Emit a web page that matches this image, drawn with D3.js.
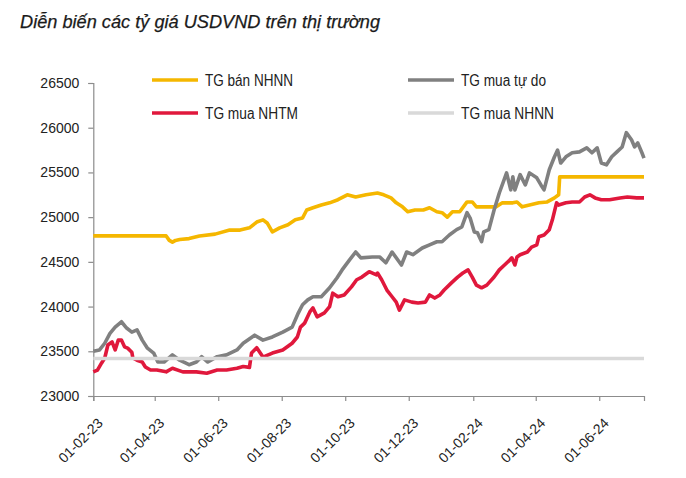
<!DOCTYPE html>
<html>
<head>
<meta charset="utf-8">
<script src="https://cdn.jsdelivr.net/npm/d3@7"></script>
<style>
  html, body { margin: 0; padding: 0; background: #fff; }
  svg { display: block; }
</style>
</head>
<body>
<svg id="chart" width="686" height="478"></svg>
<script>
// ---------- DATA ----------
const title = "Diễn biến các tỷ giá USDVND trên thị trường";
const seriesNames = ["TG bán NHNN", "TG mua tự do", "TG mua NHTM", "TG mua NHNN"];
const yTicks = [23000, 23500, 24000, 24500, 25000, 25500, 26000, 26500];
const xTickDates = ["2023-02-01","2023-04-01","2023-06-01","2023-08-01","2023-10-01","2023-12-01","2024-02-01","2024-04-01","2024-06-01"];

const tgBanNHNN = [
  ["2023-02-01",24790],["2023-04-12",24790],["2023-04-15",24740],["2023-04-18",24720],["2023-04-21",24740],
  ["2023-04-25",24750],["2023-05-04",24760],["2023-05-14",24790],["2023-05-29",24810],["2023-06-12",24855],
  ["2023-06-22",24855],["2023-07-01",24880],["2023-07-08",24945],["2023-07-14",24970],["2023-07-18",24935],
  ["2023-07-23",24835],["2023-07-30",24880],["2023-08-07",24915],["2023-08-14",24970],["2023-08-21",24990],
  ["2023-08-25",25080],["2023-08-31",25105],["2023-09-08",25135],["2023-09-16",25160],["2023-09-24",25195],
  ["2023-10-03",25250],["2023-10-11",25225],["2023-10-21",25250],["2023-11-01",25270],["2023-11-07",25250],
  ["2023-11-14",25215],["2023-11-19",25160],["2023-11-25",25115],["2023-11-30",25060],["2023-12-07",25080],
  ["2023-12-15",25080],["2023-12-21",25105],["2023-12-28",25060],["2024-01-02",25050],["2024-01-07",25000],
  ["2024-01-12",25060],["2024-01-19",25060],["2024-01-26",25170],["2024-01-31",25170],["2024-02-04",25115],
  ["2024-02-13",25115],["2024-02-23",25115],["2024-02-29",25160],["2024-03-10",25160],["2024-03-14",25170],
  ["2024-03-19",25115],["2024-03-26",25135],["2024-04-04",25160],["2024-04-12",25170],["2024-04-19",25215],
  ["2024-04-23",25250],["2024-04-24",25450],["2024-07-14",25450]
];

const tgMuaTuDo = [
  ["2023-02-01",23500],["2023-02-07",23515],["2023-02-12",23590],["2023-02-17",23700],["2023-02-22",23770],
  ["2023-02-28",23830],["2023-03-05",23760],["2023-03-10",23715],["2023-03-15",23740],["2023-03-20",23625],
  ["2023-03-25",23535],["2023-03-31",23480],["2023-04-04",23380],["2023-04-10",23380],["2023-04-18",23460],
  ["2023-04-25",23400],["2023-05-04",23350],["2023-05-11",23380],["2023-05-16",23440],["2023-05-22",23380],
  ["2023-05-31",23440],["2023-06-09",23460],["2023-06-19",23515],["2023-06-25",23590],["2023-07-06",23680],
  ["2023-07-14",23625],["2023-07-23",23660],["2023-08-02",23715],["2023-08-11",23770],["2023-08-17",23930],
  ["2023-08-21",24020],["2023-08-26",24075],["2023-08-31",24110],["2023-09-08",24110],["2023-09-16",24210],
  ["2023-09-23",24320],["2023-09-28",24410],["2023-10-05",24520],["2023-10-11",24610],["2023-10-16",24545],
  ["2023-10-27",24555],["2023-11-03",24555],["2023-11-09",24490],["2023-11-15",24610],["2023-11-24",24465],
  ["2023-11-29",24610],["2023-12-05",24580],["2023-12-14",24655],["2023-12-21",24690],["2023-12-28",24725],
  ["2024-01-02",24725],["2024-01-09",24800],["2024-01-16",24860],["2024-01-21",24890],["2024-01-26",25050],
  ["2024-01-29",24990],["2024-02-02",24835],["2024-02-05",24825],["2024-02-09",24725],["2024-02-11",24835],
  ["2024-02-16",24860],["2024-02-21",25080],["2024-02-26",25270],["2024-03-04",25495],["2024-03-08",25305],
  ["2024-03-10",25450],["2024-03-12",25305],["2024-03-17",25475],["2024-03-22",25360],["2024-03-26",25495],
  ["2024-04-02",25440],["2024-04-06",25360],["2024-04-09",25305],["2024-04-14",25530],["2024-04-19",25675],
  ["2024-04-22",25750],["2024-04-25",25605],["2024-04-30",25675],["2024-05-06",25720],["2024-05-13",25730],
  ["2024-05-20",25775],["2024-05-25",25720],["2024-05-30",25775],["2024-06-03",25605],["2024-06-08",25585],
  ["2024-06-13",25675],["2024-06-18",25730],["2024-06-23",25785],["2024-06-27",25945],["2024-07-02",25865],
  ["2024-07-05",25785],["2024-07-08",25830],["2024-07-12",25720],["2024-07-14",25660]
];

const tgMuaNHTM = [
  ["2023-02-01",23270],["2023-02-05",23290],["2023-02-09",23370],["2023-02-12",23425],["2023-02-15",23570],
  ["2023-02-19",23605],["2023-02-22",23515],["2023-02-25",23625],["2023-02-28",23625],["2023-03-03",23550],
  ["2023-03-06",23535],["2023-03-10",23490],["2023-03-11",23425],["2023-03-15",23400],["2023-03-20",23380],
  ["2023-03-23",23325],["2023-03-28",23290],["2023-04-03",23290],["2023-04-12",23270],["2023-04-18",23310],
  ["2023-04-28",23270],["2023-05-11",23270],["2023-05-21",23255],["2023-05-31",23290],["2023-06-09",23290],
  ["2023-06-19",23310],["2023-06-25",23330],["2023-07-01",23320],["2023-07-03",23480],["2023-07-08",23540],
  ["2023-07-14",23435],["2023-07-23",23480],["2023-08-02",23515],["2023-08-11",23590],["2023-08-16",23660],
  ["2023-08-19",23770],["2023-08-23",23815],["2023-08-28",23940],["2023-08-31",23985],["2023-09-04",23885],
  ["2023-09-11",23930],["2023-09-16",24000],["2023-09-19",24150],["2023-09-24",24110],["2023-09-30",24130],
  ["2023-10-07",24220],["2023-10-12",24300],["2023-10-17",24330],["2023-10-24",24390],["2023-10-31",24355],
  ["2023-11-01",24375],["2023-11-05",24300],["2023-11-10",24185],["2023-11-15",24110],["2023-11-19",24050],
  ["2023-11-22",23960],["2023-11-27",24075],["2023-12-04",24050],["2023-12-10",24040],["2023-12-17",24050],
  ["2023-12-21",24130],["2023-12-26",24095],["2023-12-31",24130],["2024-01-04",24185],["2024-01-11",24265],
  ["2024-01-17",24330],["2024-01-22",24375],["2024-01-27",24410],["2024-01-31",24330],["2024-02-04",24240],
  ["2024-02-09",24210],["2024-02-14",24240],["2024-02-21",24330],["2024-02-26",24410],["2024-03-02",24465],
  ["2024-03-07",24520],["2024-03-09",24545],["2024-03-12",24465],["2024-03-14",24555],["2024-03-17",24580],
  ["2024-03-24",24610],["2024-03-28",24665],["2024-04-02",24690],["2024-04-04",24780],["2024-04-09",24800],
  ["2024-04-14",24860],["2024-04-17",24970],["2024-04-21",25160],["2024-04-23",25135],["2024-04-30",25160],
  ["2024-05-06",25170],["2024-05-13",25170],["2024-05-18",25225],["2024-05-23",25250],["2024-05-28",25215],
  ["2024-06-03",25195],["2024-06-11",25195],["2024-06-21",25215],["2024-06-28",25225],["2024-07-07",25215],
  ["2024-07-14",25215]
];

const tgMuaNHNN = [["2023-02-01",23420],["2024-07-14",23420]];

const seriesColors = ["#F5B700", "#808080", "#E0183C", "#D9D9D9"];
const legendTextWidths = [88, 85, 93, 93];

// ---------- CHART ----------
const svg = d3.select("#chart");
const parse = d3.timeParse("%Y-%m-%d");
const fmt = d3.timeFormat("%d-%m-%y");

const mLeft = 93.3, mRight = 644, mTop = 83, mBottom = 396;
const x = d3.scaleTime().domain([parse("2023-02-01"), parse("2024-07-14")]).range([mLeft, mRight]);
const y = d3.scaleLinear().domain([23000, 26500]).range([mBottom, mTop]);

// title
svg.append("text")
  .attr("x", 20).attr("y", 28)
  .attr("font-family", "Liberation Sans, Arial, sans-serif")
  .attr("font-style", "italic")
  .attr("font-size", 18)
  .attr("fill", "#1a1a1a")
  .attr("stroke", "#1a1a1a").attr("stroke-width", 0.25)
  .attr("textLength", 360).attr("lengthAdjust", "spacingAndGlyphs")
  .text(title);

// axes
const axisColor = "#8c8c8c";
const yAxis = svg.append("g").attr("transform", `translate(${mLeft},0)`)
  .call(d3.axisLeft(y).tickValues(yTicks).tickSize(5).tickFormat(d3.format("d")).tickPadding(9));
const xAxis = svg.append("g").attr("transform", `translate(0,${mBottom})`)
  .call(d3.axisBottom(x).tickValues(xTickDates.map(parse)).tickSize(5).tickFormat(fmt));

[yAxis, xAxis].forEach(g => {
  g.select(".domain").attr("stroke", axisColor).attr("stroke-width", 1.2);
  g.selectAll(".tick line").attr("stroke", axisColor).attr("stroke-width", 1.2);
  g.selectAll("text").attr("fill", "#222").attr("font-size", 14)
    .attr("font-family", "Liberation Sans, Arial, sans-serif");
});
xAxis.selectAll(".tick text")
  .attr("text-anchor", "end")
  .attr("dy", 0).attr("y", 0)
  .attr("transform", "translate(10,28) rotate(-45)");

// lines
const line = d3.line().x(d => x(parse(d[0]))).y(d => y(d[1]));
const allSeries = [tgBanNHNN, tgMuaTuDo, tgMuaNHTM, tgMuaNHNN];
allSeries.forEach((s, i) => {
  svg.append("path").datum(s)
    .attr("fill", "none")
    .attr("stroke", seriesColors[i])
    .attr("stroke-width", 3.6)
    .attr("stroke-linejoin", "round")
    .attr("d", line);
});

// legend
const legendPos = [[152, 80], [408, 80], [152, 113], [408, 113]];
const legend = svg.append("g");
seriesNames.forEach((name, i) => {
  const [lx, ly] = legendPos[i];
  legend.append("line")
    .attr("x1", lx).attr("x2", lx + 46).attr("y1", ly).attr("y2", ly)
    .attr("stroke", seriesColors[i]).attr("stroke-width", 3.5);
  legend.append("text")
    .attr("x", lx + 53).attr("y", ly + 6)
    .attr("font-family", "Liberation Sans, Arial, sans-serif")
    .attr("font-size", 16).attr("fill", "#222")
    .attr("textLength", legendTextWidths[i]).attr("lengthAdjust", "spacingAndGlyphs")
    .text(name);
});
</script>
</body>
</html>
